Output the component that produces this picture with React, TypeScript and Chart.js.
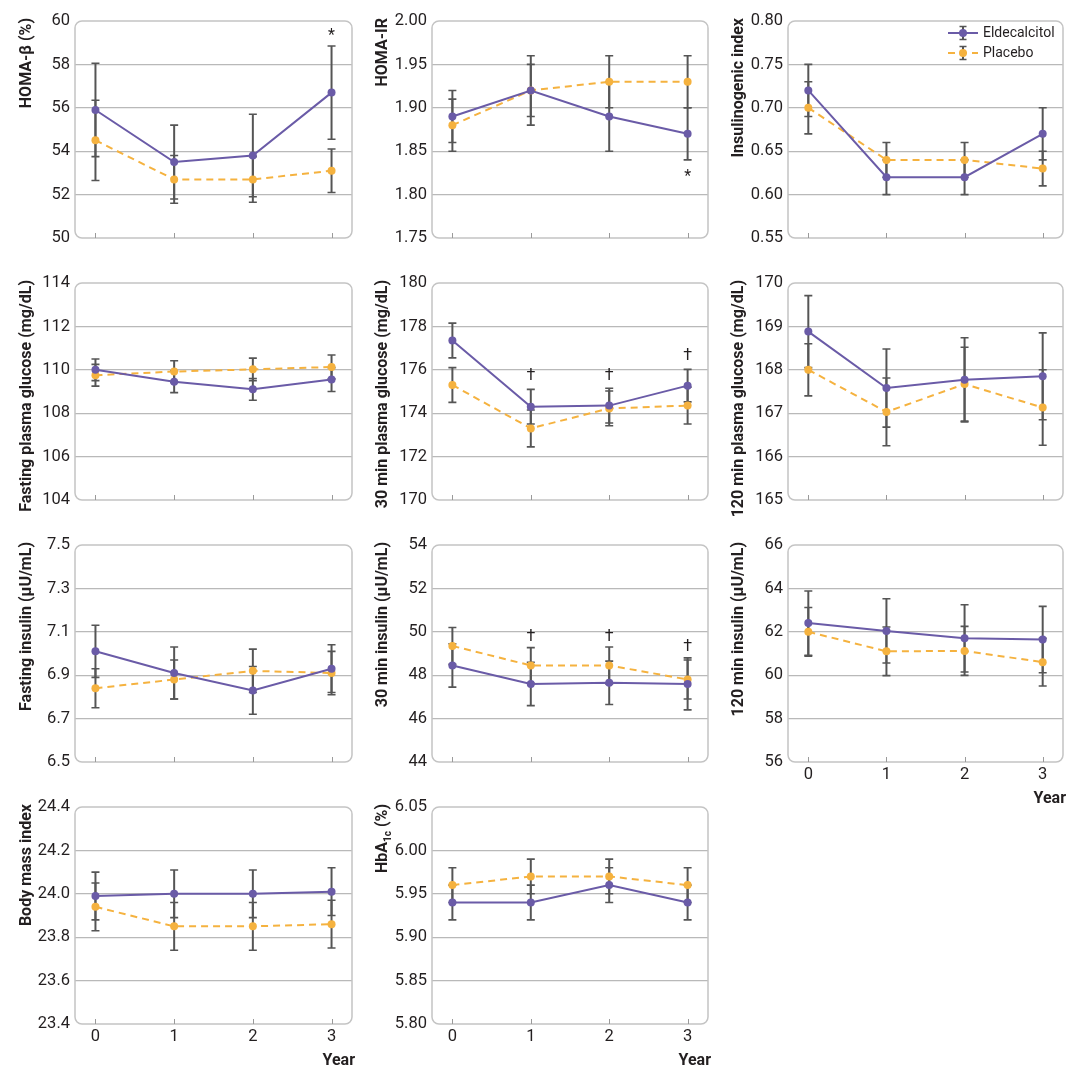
import React, { useEffect, useRef } from 'react';
import { Chart, registerables } from 'chart.js';

Chart.register(...registerables);

// ---------- data ----------
const YEARS = [0, 1, 2, 3];
const SERIES_NAMES = ['Eldecalcitol', 'Placebo'];

// HOMA-β (%)
const homaBetaEld = [55.9, 53.5, 53.8, 56.7];
const homaBetaEldErr = [2.15, 1.7, 1.9, 2.15];
const homaBetaPla = [54.5, 52.7, 52.7, 53.1];
const homaBetaPlaErr = [1.85, 1.1, 1.05, 1.0];
const homaBetaTicks = [50, 52, 54, 56, 58, 60];

// HOMA-IR
const homaIrEld = [1.89, 1.92, 1.89, 1.87];
const homaIrEldErr = [0.03, 0.04, 0.04, 0.03];
const homaIrPla = [1.88, 1.92, 1.93, 1.93];
const homaIrPlaErr = [0.03, 0.03, 0.03, 0.03];
const homaIrTicks = [1.75, 1.8, 1.85, 1.9, 1.95, 2.0];

// Insulinogenic index
const insIdxEld = [0.72, 0.62, 0.62, 0.67];
const insIdxEldErr = [0.03, 0.02, 0.02, 0.03];
const insIdxPla = [0.7, 0.64, 0.64, 0.63];
const insIdxPlaErr = [0.03, 0.02, 0.02, 0.02];
const insIdxTicks = [0.55, 0.6, 0.65, 0.7, 0.75, 0.8];

// Fasting plasma glucose (mg/dL)
const fpgEld = [110.0, 109.45, 109.1, 109.55];
const fpgEldErr = [0.5, 0.5, 0.5, 0.55];
const fpgPla = [109.75, 109.92, 110.02, 110.13];
const fpgPlaErr = [0.5, 0.5, 0.52, 0.55];
const fpgTicks = [104, 106, 108, 110, 112, 114];

// 30 min plasma glucose (mg/dL)
const pg30Eld = [177.35, 174.3, 174.35, 175.27];
const pg30EldErr = [0.8, 0.8, 0.8, 0.75];
const pg30Pla = [175.3, 173.3, 174.22, 174.35];
const pg30PlaErr = [0.8, 0.85, 0.8, 0.85];
const pg30Ticks = [170, 172, 174, 176, 178, 180];

// 120 min plasma glucose (mg/dL)
const pg120Eld = [168.88, 167.58, 167.77, 167.85];
const pg120EldErr = [0.83, 0.9, 0.97, 1.0];
const pg120Pla = [168.0, 167.03, 167.67, 167.13];
const pg120PlaErr = [0.6, 0.78, 0.85, 0.87];
const pg120Ticks = [165, 166, 167, 168, 169, 170];

// Fasting insulin (μU/mL)
const fiEld = [7.01, 6.91, 6.83, 6.93];
const fiEldErr = [0.12, 0.12, 0.11, 0.11];
const fiPla = [6.84, 6.88, 6.92, 6.91];
const fiPlaErr = [0.09, 0.09, 0.1, 0.1];
const fiTicks = [6.5, 6.7, 6.9, 7.1, 7.3, 7.5];

// 30 min insulin (μU/mL)
const ins30Eld = [48.45, 47.6, 47.65, 47.6];
const ins30EldErr = [1.0, 1.0, 1.0, 1.2];
const ins30Pla = [49.35, 48.45, 48.45, 47.8];
const ins30PlaErr = [0.85, 0.82, 0.85, 0.9];
const ins30Ticks = [44, 46, 48, 50, 52, 54];

// 120 min insulin (μU/mL)
const ins120Eld = [62.4, 62.04, 61.7, 61.64];
const ins120EldErr = [1.48, 1.48, 1.55, 1.53];
const ins120Pla = [62.0, 61.1, 61.12, 60.6];
const ins120PlaErr = [1.12, 1.12, 1.13, 1.1];
const ins120Ticks = [56, 58, 60, 62, 64, 66];

// Body mass index
const bmiEld = [23.99, 24.0, 24.0, 24.01];
const bmiEldErr = [0.11, 0.11, 0.11, 0.11];
const bmiPla = [23.94, 23.85, 23.85, 23.86];
const bmiPlaErr = [0.11, 0.11, 0.11, 0.11];
const bmiTicks = [23.4, 23.6, 23.8, 24.0, 24.2, 24.4];

// HbA1c (%)
const hbaEld = [5.94, 5.94, 5.96, 5.94];
const hbaEldErr = [0.02, 0.02, 0.02, 0.02];
const hbaPla = [5.96, 5.97, 5.97, 5.96];
const hbaPlaErr = [0.02, 0.02, 0.02, 0.02];
const hbaTicks = [5.8, 5.85, 5.9, 5.95, 6.0, 6.05];

// significance marks (symbol, year, y-value)
const homaBetaMarks = [{ sym: '*', year: 3, value: 59.3 }];
const homaIrMarks = [{ sym: '*', year: 3, value: 1.82 }];
const pg30Marks = [
  { sym: '†', year: 1, value: 175.7 },
  { sym: '†', year: 2, value: 175.7 },
  { sym: '†', year: 3, value: 176.65 },
];
const ins30Marks = [
  { sym: '†', year: 1, value: 49.77 },
  { sym: '†', year: 2, value: 49.77 },
  { sym: '†', year: 3, value: 49.3 },
];

// ---------- styling ----------
const PURPLE = '#6a5ba7';
const ORANGE = '#f5b23f';
const ERR = '#555555';
const GRID = '#b9b9b9';
const BOX = '#c4c4c4';
const TEXT = '#231f20';
const FONT = 'Roboto, "Open Sans", sans-serif';
const TICK_SIZE = 16.5;

const CANVAS_W = 360;
const CANVAS_H = 290;
const ROW_STEP = 262;
const TOP_PAD = 21;
const AREA_H = 217;
const AXIS_W = [75, 72, 68];
const RIGHT_PAD = [8, 12, 17];
const TITLE_X = [27, 23, 19];

type Part = { t: string; sub?: boolean };
type Panel = {
  title: Part[];
  eld: number[];
  eldErr: number[];
  pla: number[];
  plaErr: number[];
  ticks: number[];
  dec: number;
  row: number;
  col: number;
  showX?: boolean;
  legend?: boolean;
  marks?: { sym: string; year: number; value: number }[];
};

const PANELS: Panel[] = [
  { title: [{ t: 'HOMA-β (%)' }], eld: homaBetaEld, eldErr: homaBetaEldErr, pla: homaBetaPla, plaErr: homaBetaPlaErr, ticks: homaBetaTicks, dec: 0, row: 0, col: 0, marks: homaBetaMarks },
  { title: [{ t: 'HOMA-IR' }], eld: homaIrEld, eldErr: homaIrEldErr, pla: homaIrPla, plaErr: homaIrPlaErr, ticks: homaIrTicks, dec: 2, row: 0, col: 1, marks: homaIrMarks },
  { title: [{ t: 'Insulinogenic index' }], eld: insIdxEld, eldErr: insIdxEldErr, pla: insIdxPla, plaErr: insIdxPlaErr, ticks: insIdxTicks, dec: 2, row: 0, col: 2, legend: true },
  { title: [{ t: 'Fasting plasma glucose (mg/dL)' }], eld: fpgEld, eldErr: fpgEldErr, pla: fpgPla, plaErr: fpgPlaErr, ticks: fpgTicks, dec: 0, row: 1, col: 0 },
  { title: [{ t: '30 min plasma glucose (mg/dL)' }], eld: pg30Eld, eldErr: pg30EldErr, pla: pg30Pla, plaErr: pg30PlaErr, ticks: pg30Ticks, dec: 0, row: 1, col: 1, marks: pg30Marks },
  { title: [{ t: '120 min plasma glucose (mg/dL)' }], eld: pg120Eld, eldErr: pg120EldErr, pla: pg120Pla, plaErr: pg120PlaErr, ticks: pg120Ticks, dec: 0, row: 1, col: 2 },
  { title: [{ t: 'Fasting insulin (μU/mL)' }], eld: fiEld, eldErr: fiEldErr, pla: fiPla, plaErr: fiPlaErr, ticks: fiTicks, dec: 1, row: 2, col: 0 },
  { title: [{ t: '30 min insulin (μU/mL)' }], eld: ins30Eld, eldErr: ins30EldErr, pla: ins30Pla, plaErr: ins30PlaErr, ticks: ins30Ticks, dec: 0, row: 2, col: 1, marks: ins30Marks },
  { title: [{ t: '120 min insulin (μU/mL)' }], eld: ins120Eld, eldErr: ins120EldErr, pla: ins120Pla, plaErr: ins120PlaErr, ticks: ins120Ticks, dec: 0, row: 2, col: 2, showX: true },
  { title: [{ t: 'Body mass index' }], eld: bmiEld, eldErr: bmiEldErr, pla: bmiPla, plaErr: bmiPlaErr, ticks: bmiTicks, dec: 1, row: 3, col: 0, showX: true },
  { title: [{ t: 'HbA' }, { t: '1c', sub: true }, { t: ' (%)' }], eld: hbaEld, eldErr: hbaEldErr, pla: hbaPla, plaErr: hbaPlaErr, ticks: hbaTicks, dec: 2, row: 3, col: 1, showX: true },
];

function drawErrorBar(ctx: CanvasRenderingContext2D, px: number, yt: number, yb: number, cap: number) {
  ctx.strokeStyle = ERR;
  ctx.lineWidth = 2;
  ctx.beginPath();
  ctx.moveTo(px, yt);
  ctx.lineTo(px, yb);
  ctx.stroke();
  ctx.lineWidth = 1.6;
  ctx.beginPath();
  ctx.moveTo(px - cap, yt);
  ctx.lineTo(px + cap, yt);
  ctx.moveTo(px - cap, yb);
  ctx.lineTo(px + cap, yb);
  ctx.stroke();
}

function makeDecor(p: Panel) {
  return {
    id: 'panelDecor',
    beforeDatasetsDraw(chart: any) {
      const { ctx } = chart;
      const x = chart.scales.x;
      const y = chart.scales.y;
      ctx.save();
      chart.data.datasets.forEach((ds: any) => {
        ds.data.forEach((pt: any, i: number) => {
          const e = ds.errors[i];
          drawErrorBar(ctx, x.getPixelForValue(pt.x), y.getPixelForValue(pt.y + e), y.getPixelForValue(pt.y - e), 4);
        });
      });
      ctx.restore();
    },
    afterDraw(chart: any) {
      const { ctx, chartArea } = chart;
      const x = chart.scales.x;
      const y = chart.scales.y;
      const { left, right, top, bottom } = chartArea;
      ctx.save();
      // rounded frame
      ctx.strokeStyle = BOX;
      ctx.lineWidth = 1.5;
      ctx.beginPath();
      ctx.roundRect(left, top, right - left, bottom - top, 7);
      ctx.stroke();
      // inner tick marks
      ctx.strokeStyle = '#9a9a9a';
      ctx.lineWidth = 1;
      YEARS.forEach((yr) => {
        const px = Math.round(x.getPixelForValue(yr)) + 0.5;
        ctx.beginPath();
        ctx.moveTo(px, bottom);
        ctx.lineTo(px, bottom - 5);
        ctx.stroke();
      });
      // significance marks
      ctx.fillStyle = TEXT;
      ctx.font = `16px ${FONT}`;
      ctx.textAlign = 'center';
      ctx.textBaseline = 'middle';
      (p.marks || []).forEach((m) => {
        ctx.fillText(m.sym, x.getPixelForValue(m.year), y.getPixelForValue(m.value));
      });
      // y title (rotated, top aligned)
      const mainFont = `bold 16px ${FONT}`;
      const subFont = `bold 10px ${FONT}`;
      let total = 0;
      p.title.forEach((part) => {
        ctx.font = part.sub ? subFont : mainFont;
        total += ctx.measureText(part.t).width;
      });
      ctx.translate(TITLE_X[p.col], top - 3);
      ctx.rotate(-Math.PI / 2);
      ctx.textAlign = 'left';
      ctx.textBaseline = 'middle';
      let cx = -total;
      p.title.forEach((part) => {
        ctx.font = part.sub ? subFont : mainFont;
        ctx.fillText(part.t, cx, part.sub ? 5 : 0);
        cx += ctx.measureText(part.t).width;
      });
      ctx.setTransform(1, 0, 0, 1, 0, 0);
      ctx.restore();
      ctx.save();
      // "Year" label
      if (p.showX) {
        ctx.fillStyle = TEXT;
        ctx.font = `bold 16px ${FONT}`;
        ctx.textAlign = 'right';
        ctx.textBaseline = 'middle';
        ctx.fillText('Year', right + 3, bottom + 37);
      }
      // legend
      if (p.legend) {
        const colors = [PURPLE, ORANGE];
        SERIES_NAMES.forEach((name, i) => {
          const ly = top + 12 + i * 20;
          const lx0 = right - 115;
          const lx1 = right - 85;
          const lc = (lx0 + lx1) / 2;
          drawErrorBar(ctx, lc, ly - 6.5, ly + 6.5, 3.5);
          ctx.strokeStyle = colors[i];
          ctx.lineWidth = 2;
          ctx.setLineDash(i === 1 ? [7, 5] : []);
          ctx.beginPath();
          ctx.moveTo(lx0, ly);
          ctx.lineTo(lx1, ly);
          ctx.stroke();
          ctx.setLineDash([]);
          ctx.fillStyle = colors[i];
          ctx.beginPath();
          ctx.arc(lc, ly, 4, 0, Math.PI * 2);
          ctx.fill();
          ctx.fillStyle = TEXT;
          ctx.font = `14px ${FONT}`;
          ctx.textAlign = 'left';
          ctx.textBaseline = 'middle';
          ctx.fillText(name, right - 80, ly);
        });
      }
      ctx.restore();
    },
  };
}

function makeConfig(p: Panel): any {
  const mk = (vals: number[]) => YEARS.map((yr, i) => ({ x: yr, y: vals[i] }));
  const lastIdx = p.ticks.length - 1;
  return {
    type: 'line',
    data: {
      datasets: [
        {
          label: SERIES_NAMES[0],
          data: mk(p.eld),
          errors: p.eldErr,
          borderColor: PURPLE,
          backgroundColor: PURPLE,
          borderWidth: 2,
          pointRadius: 4,
          pointHoverRadius: 4,
          pointBorderWidth: 0,
          tension: 0,
        },
        {
          label: SERIES_NAMES[1],
          data: mk(p.pla),
          errors: p.plaErr,
          borderColor: ORANGE,
          backgroundColor: ORANGE,
          borderWidth: 2,
          borderDash: [7, 5],
          pointRadius: 4,
          pointHoverRadius: 4,
          pointBorderWidth: 0,
          tension: 0,
        },
      ],
    },
    options: {
      animation: false,
      responsive: false,
      events: [],
      layout: { padding: { top: TOP_PAD, right: RIGHT_PAD[p.col], bottom: 0, left: 0 } },
      plugins: { legend: { display: false }, tooltip: { enabled: false } },
      scales: {
        x: {
          type: 'linear',
          min: -0.26,
          max: 3.26,
          afterBuildTicks: (s: any) => {
            s.ticks = YEARS.map((v) => ({ value: v }));
          },
          grid: { display: false, drawTicks: false },
          border: { display: false },
          ticks: {
            display: !!p.showX,
            padding: 3,
            color: TEXT,
            font: { family: FONT, size: TICK_SIZE },
            callback: (v: any) => String(v),
          },
          afterFit: (s: any) => {
            s.height = CANVAS_H - TOP_PAD - AREA_H;
          },
        },
        y: {
          type: 'linear',
          min: p.ticks[0],
          max: p.ticks[lastIdx],
          afterBuildTicks: (s: any) => {
            s.ticks = p.ticks.map((v) => ({ value: v }));
          },
          grid: {
            color: (c: any) => (c.index === 0 || c.index === lastIdx ? 'rgba(0,0,0,0)' : GRID),
            lineWidth: 1.2,
            drawTicks: false,
          },
          border: { display: false },
          ticks: {
            padding: 5,
            color: TEXT,
            font: { family: FONT, size: TICK_SIZE },
            callback: (v: any) => Number(v).toFixed(p.dec),
          },
          afterFit: (s: any) => {
            s.width = AXIS_W[p.col];
          },
        },
      },
    },
    plugins: [makeDecor(p)],
  };
}

function PanelChart({ p }: { p: Panel }) {
  const ref = useRef<HTMLCanvasElement | null>(null);
  useEffect(() => {
    if (!ref.current) return;
    const chart = new Chart(ref.current, makeConfig(p));
    return () => chart.destroy();
  }, [p]);
  return (
    <canvas
      ref={ref}
      width={CANVAS_W}
      height={CANVAS_H}
      style={{
        position: 'absolute',
        left: p.col * CANVAS_W,
        top: p.row * ROW_STEP,
        width: CANVAS_W,
        height: CANVAS_H,
      }}
    />
  );
}

export default function App() {
  return (
    <div
      style={{
        position: 'absolute',
        left: 0,
        top: 0,
        width: 1080,
        height: 1076,
        background: '#ffffff',
        overflow: 'hidden',
      }}
    >
      {PANELS.map((p, i) => (
        <PanelChart key={i} p={p} />
      ))}
    </div>
  );
}
